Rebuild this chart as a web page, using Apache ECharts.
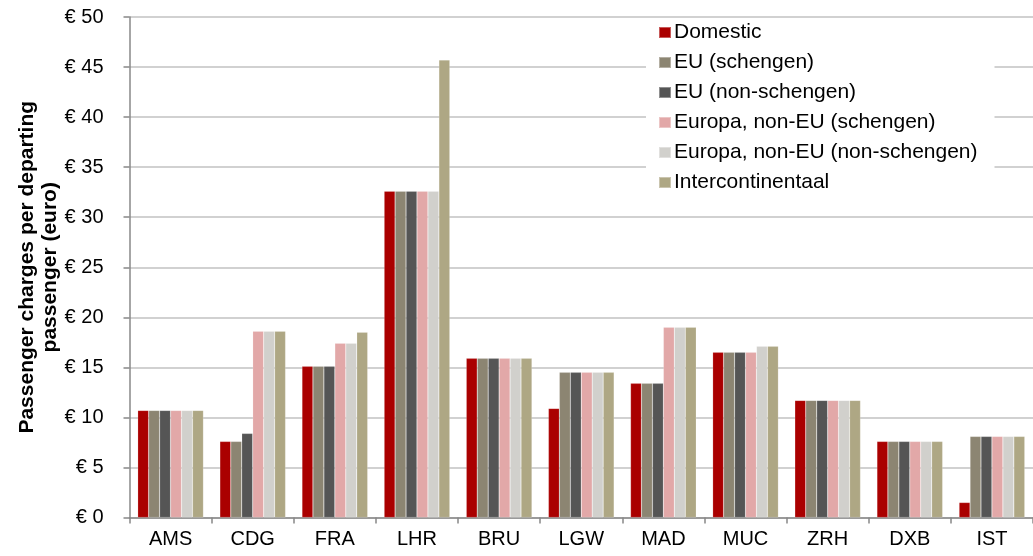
<!DOCTYPE html>
<html>
<head>
<meta charset="utf-8">
<script src="https://cdn.jsdelivr.net/npm/echarts@6/dist/echarts.min.js"></script>
<style>html,body{margin:0;padding:0;background:#fff;overflow:hidden;}#c{width:1033px;height:556px;}</style>
</head>
<body>
<div id="c"></div>
<script>
const categories = ['AMS','CDG','FRA','LHR','BRU','LGW','MAD','MUC','ZRH','DXB','IST'];
const seriesNames = ['Domestic','EU (schengen)','EU (non-schengen)','Europa, non-EU (schengen)','Europa, non-EU (non-schengen)','Intercontinentaal'];
const domestic      = [10.7, 7.6, 15.1, 32.6, 15.9, 10.9, 13.4, 16.5, 11.7, 7.6, 1.5];
const euSchengen    = [10.7, 7.6, 15.1, 32.6, 15.9, 14.5, 13.4, 16.5, 11.7, 7.6, 8.1];
const euNonSchengen = [10.7, 8.4, 15.1, 32.6, 15.9, 14.5, 13.4, 16.5, 11.7, 7.6, 8.1];
const europaSchengen    = [10.7, 18.6, 17.4, 32.6, 15.9, 14.5, 19.0, 16.5, 11.7, 7.6, 8.1];
const europaNonSchengen = [10.7, 18.6, 17.4, 32.6, 15.9, 14.5, 19.0, 17.1, 11.7, 7.6, 8.1];
const intercontinentaal = [10.7, 18.6, 18.5, 45.7, 15.9, 14.5, 19.0, 17.1, 11.7, 7.6, 8.1];
const yAxisTitle = 'Passenger charges per departing\npassenger (euro)';
const currencyPrefix = '€ ';

const colors = ['#aa0000','#8c8572','#555555','#e2a8a8','#d1d0cc','#aea784'];
const allData = [domestic, euSchengen, euNonSchengen, europaSchengen, europaNonSchengen, intercontinentaal];
const font = 'Liberation Sans, Arial, sans-serif';

const chart = echarts.init(document.getElementById('c'));
chart.setOption({
  animation: false,
  color: colors,
  textStyle: { fontFamily: font },
  grid: { left: 129.5, right: -7, top: 17, bottom: 38.5, containLabel: false },
  legend: {
    orient: 'vertical',
    left: 646,
    top: 19,
    backgroundColor: '#ffffff',
    padding: [3, 17, 6, 12],
    itemWidth: 12,
    itemHeight: 11,
    itemGap: 9,
    icon: 'rect',
    textStyle: { fontSize: 21, color: '#000', fontFamily: font, padding: [0, 0, 0, -2] },
    data: seriesNames
  },
  xAxis: {
    type: 'category',
    data: categories,
    axisLine: { lineStyle: { color: '#888888', width: 1.5 } },
    axisTick: { show: true, alignWithLabel: false, length: 6, lineStyle: { color: '#888888', width: 1.5 } },
    axisLabel: { fontSize: 20, color: '#000', margin: 12, fontFamily: font }
  },
  yAxis: {
    type: 'value',
    min: 0,
    max: 50,
    interval: 5,
    name: yAxisTitle,
    nameLocation: 'middle',
    nameGap: 68,
    nameMoveOverlap: false,
    nameTextStyle: { fontSize: 21, fontWeight: 'bold', color: '#000', fontFamily: font, lineHeight: 23 },
    axisLine: { show: true, lineStyle: { color: '#888888', width: 1.5 } },
    axisTick: { show: true, length: 6, lineStyle: { color: '#888888', width: 1.5 } },
    axisLabel: { fontSize: 20, color: '#000', margin: 26, fontFamily: font, formatter: v => currencyPrefix + v },
    splitLine: { lineStyle: { color: '#c2c2c2', width: 1.5 } }
  },
  series: seriesNames.map((n, i) => ({
    name: n,
    type: 'bar',
    data: allData[i],
    barGap: '0%',
    barCategoryGap: '20%',
    itemStyle: { color: colors[i], borderColor: 'rgba(255,255,255,0.35)', borderWidth: 0.5 }
  }))
});
</script>
</body>
</html>
